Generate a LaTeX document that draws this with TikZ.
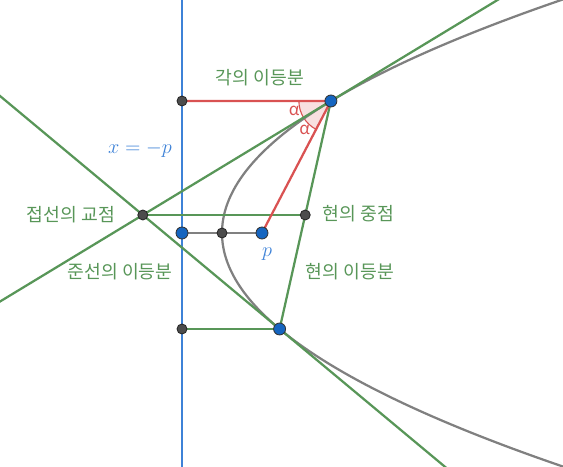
\documentclass[tikz,border=0pt]{standalone}
\usepackage{fontspec}
\newfontfamily\kr{Noto Sans CJK KR}
\usetikzlibrary{calc}

\definecolor{ggreen}{RGB}{88,150,88}
\definecolor{gred}{RGB}{217,82,82}
\definecolor{gblue}{RGB}{62,130,215}
\definecolor{gpoint}{RGB}{21,101,192}
\definecolor{ggray}{RGB}{128,128,128}

\tikzset{
	curveline/.style = {line width = 1.6pt},
	bluept/.style = {circle, fill = gpoint, draw = black!80, line width = 0.6pt, inner sep = 0pt, minimum size = 0.3cm},
	graypt/.style = {circle, fill = black!70, draw = black!85, line width = 0.6pt, inner sep = 0pt, minimum size = 0.25cm},
	label/.style = {text = ggreen, font = \kr\fontsize{13}{15}\selectfont}
}

\begin{document}
\begin{tikzpicture}
\useasboundingbox (-5.55, -5.85) rectangle (8.525, 5.825);
\clip (-5.55, -5.85) rectangle (8.525, 5.825);

% points of the parabola y^2 = 4x, t = 1.65 and t = -1.2
\coordinate (V) at (0, 0);
\coordinate (F) at (1, 0);
\coordinate (D) at (-1, 0);
\coordinate (A) at (2.7225, 3.3);
\coordinate (B) at (1.44, -2.4);
\coordinate (A') at (-1, 3.3);
\coordinate (B') at (-1, -2.4);
\coordinate (T) at (-1.98, 0.45);
\coordinate (M) at (2.08125, 0.45);

% angle at A
\fill[gred, opacity = 0.18] (A) -- ++(180:0.8) arc (180:242.44:0.8) -- cycle;
\draw[gred, line width = 0.8pt] (A) ++(180:0.8) arc (180:242.44:0.8);

\draw[gblue, curveline] (-1, -6) -- (-1, 6);

\draw[ggray, curveline, domain = -3:3, samples = 120]
	plot ({\x*\x}, {2*\x});
\draw[ggray, curveline] (D) -- (F);

\draw[ggreen, curveline] ($(T)!-3!(A)$) -- ($(T)!3!(A)$);
\draw[ggreen, curveline] ($(T)!-3!(B)$) -- ($(T)!3!(B)$);
\draw[ggreen, curveline] (A) -- (B);
\draw[ggreen, curveline] (T) -- (M);
\draw[ggreen, curveline] (B') -- (B);

\draw[gred, curveline] (A') -- (A) -- (F);

\node[text = gred, font = \kr\fontsize{12}{14}\selectfont] (al1) at ($(A) + (195:0.95)$) {α};
\node[text = gred, font = \kr\fontsize{12}{14}\selectfont] (al2) at ($(A) + (228:0.98)$) {α};

\node[graypt] (pA') at (A') {};
\node[graypt] (pB') at (B') {};
\node[graypt] (pT) at (T) {};
\node[graypt] (pM) at (M) {};
\node[graypt] (pV) at (V) {};
\node[bluept] (pD) at (D) {};
\node[bluept] (pF) at (F) {};
\node[bluept] (pA) at (A) {};
\node[bluept] (pB) at (B) {};

\node[label] (bis) at (0.95, 3.875) {각의 이등분};
\node[label, anchor = east] (meet) at (-2.55, 0.45) {접선의 교점};
\node[label] (dirbis) at (-2.55, -0.975) {준선의 이등분};
\node[label, anchor = west] (mid) at (2.4, 0.475) {현의 중점};
\node[label] (chbis) at (3.2, -0.975) {현의 이등분};
\node[text = gblue, font = \fontsize{14}{16}\selectfont] (dir) at (-2.05, 2.075) {$x = -p$};
\node[text = gblue, font = \fontsize{14}{16}\selectfont] (pp) at (1.13, -0.53) {$p$};

\end{tikzpicture}
\end{document}
